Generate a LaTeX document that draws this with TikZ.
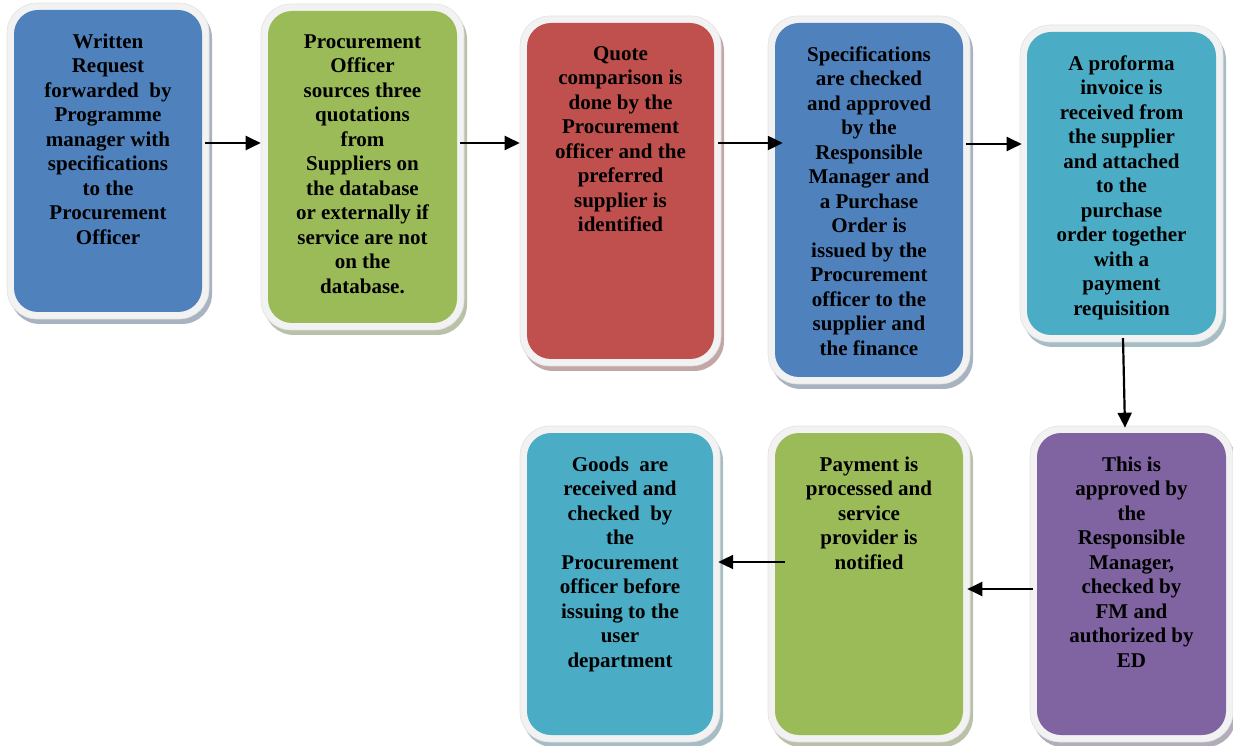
\documentclass[tikz,border=0pt]{standalone}
\usepackage{fontspec}
\setmainfont{Liberation Serif}
\usetikzlibrary{arrows.meta,calc}
\definecolor{cblue}{HTML}{4F81BD}
\definecolor{cgreen}{HTML}{9BBB59}
\definecolor{cred}{HTML}{C0504D}
\definecolor{caqua}{HTML}{4BACC6}
\definecolor{cpurple}{HTML}{8064A2}
\definecolor{framegray}{HTML}{F2F2F2}
\definecolor{framedraw}{HTML}{E2E2E2}
\tikzset{
  inbox/.style={rectangle, rounded corners=24pt, inner sep=0pt, draw=none},
  framebox/.style={rectangle, rounded corners=30pt, inner sep=0pt, fill=framegray, draw=framedraw, line width=0.6pt},
  shadowbox/.style={rectangle, rounded corners=30pt, inner sep=0pt, draw=none},
  txt/.style={anchor=north, align=center, inner sep=0pt, font=\fontsize{21}{24.5}\selectfont\bfseries},
  arr/.style={-{Triangle[length=15pt,width=14pt]}, line width=2.2pt}
}
\newcommand\pbox[7]{%
  \pgfmathsetmacro\fw{#4+14}\pgfmathsetmacro\fh{#5+14}%
  \node[shadowbox, fill=#6!40!gray!60!white, minimum width=\fw pt, minimum height=\fh pt] (s#1) at (#2+3,#3-5) {};
  \node[framebox, minimum width=\fw pt, minimum height=\fh pt] (f#1) at (#2,#3) {};
  \node[inbox, fill=#6, minimum width=#4pt, minimum height=#5pt] (b#1) at (#2,#3) {};
  \node[txt] (t#1) at ($(b#1.north)+(0,-23.5)$) {#7};
}
\begin{document}
\begin{tikzpicture}[x=1pt,y=1pt]
\useasboundingbox (0,0) rectangle (1233,745);
\pbox{1}{108}{584}{188}{302}{cblue}{Written\\Request\\forwarded\ \ by\\Programme\\manager with\\specifications\\to the\\Procurement\\Officer}
\pbox{2}{362.5}{578}{189}{312}{cgreen}{Procurement\\Officer\\sources three\\quotations\\from\\Suppliers on\\the database\\or externally if\\service are not\\on the\\database.}
\pbox{3}{620.5}{554}{187}{336}{cred}{Quote\\comparison is\\done by the\\Procurement\\officer and the\\preferred\\supplier is\\identified}
\pbox{4}{869}{545}{188}{354}{cblue}{Specifications\\are checked\\and approved\\by the\\Responsible\\Manager and\\a Purchase\\Order is\\issued by the\\Procurement\\officer to the\\supplier and\\the finance}
\pbox{5}{1121.5}{561.5}{189}{303}{caqua}{A proforma\\invoice is\\received from\\the supplier\\and attached\\to the\\purchase\\order together\\with a\\payment\\requisition}
\pbox{6}{1131.5}{161}{189}{302}{cpurple}{This is\\approved by\\the\\Responsible\\Manager,\\checked by\\FM and\\authorized by\\ED}
\pbox{7}{869}{161}{188}{302}{cgreen}{Payment is\\processed and\\service\\provider is\\notified}
\pbox{8}{620}{161}{186}{302}{caqua}{Goods\ \ are\\received and\\checked\ \ by\\the\\Procurement\\officer before\\issuing to the\\user\\department}
% connectors
\coordinate (a1) at ($(b1.east)+(3,18)$);
\draw[arr] (a1) -- (a1 -| f2.west);
\coordinate (a2) at ($(b2.east)+(3,24)$);
\draw[arr] (a2) -- (a2 -| f3.west);
\coordinate (a3) at ($(b3.east)+(4,48)$);
\draw[arr] (a3) -- ($(a3 -| b4.west)+(8,0)$);
\coordinate (a4) at ($(b4.east)+(3,56)$);
\draw[arr] (a4) -- ($(a4 -| f5.west)+(2,0)$);
\coordinate (a5) at ($(b5.south)+(1.5,-3)$);
\coordinate (e5) at ($(f6.north)+(-6.5,-2)$);
\draw[arr] (a5) -- (e5);
\coordinate (a6) at ($(b6.west)+(-4,-5)$);
\draw[arr] (a6) -- ($(a6 -| f7.east)+(-3,0)$);
\coordinate (a7) at ($(b7.west)+(10,22)$);
\draw[arr] (a7) -- ($(a7 -| b8.east)+(5,0)$);
\end{tikzpicture}
\end{document}
